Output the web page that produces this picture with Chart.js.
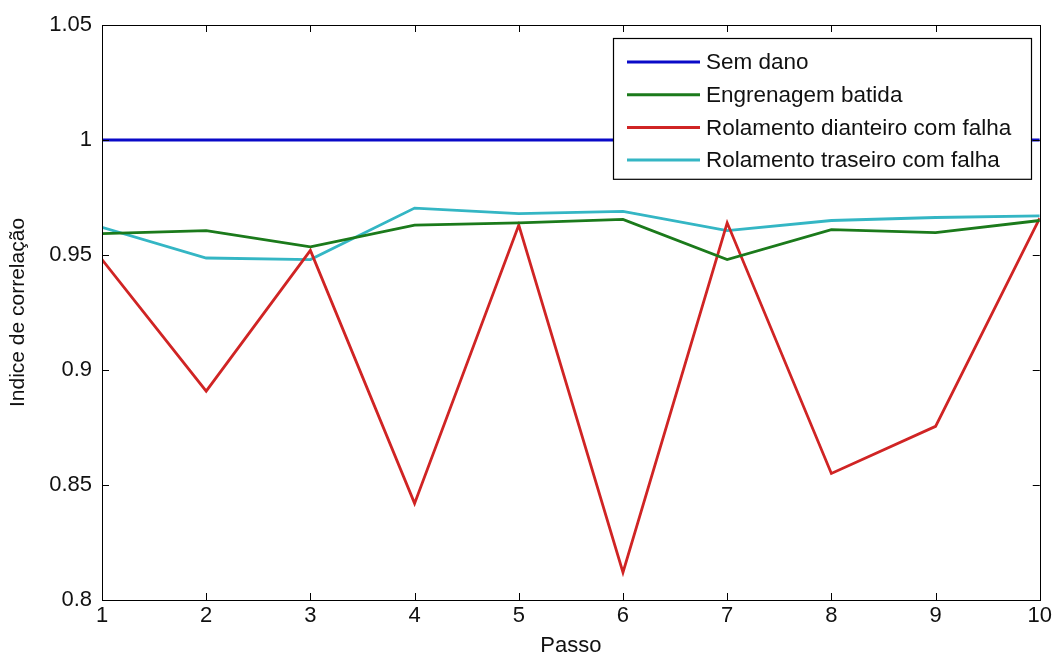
<!DOCTYPE html>
<html>
<head>
<meta charset="utf-8">
<script src="https://cdn.jsdelivr.net/npm/chart.js@4/dist/chart.umd.min.js"></script>
<style>
  html, body { margin: 0; padding: 0; background: #fff; }
  #wrap { width: 1055px; height: 659px; }
</style>
</head>
<body>
<div id="wrap"><canvas id="corrChart" width="1055" height="659"></canvas></div>
<script>
// data
const passos = [1, 2, 3, 4, 5, 6, 7, 8, 9, 10];
const semDano = [1.0, 1.0, 1.0, 1.0, 1.0, 1.0, 1.0, 1.0, 1.0, 1.0];
const engrenagemBatida = [0.9593, 0.9606, 0.9535, 0.963, 0.964, 0.9655, 0.948, 0.961, 0.9597, 0.965];
const rolDianteiro = [0.948, 0.8908, 0.952, 0.842, 0.963, 0.812, 0.964, 0.855, 0.8755, 0.966];
const rolTraseiro = [0.962, 0.9487, 0.948, 0.9704, 0.968, 0.969, 0.9606, 0.965, 0.9663, 0.967];
const seriesNames = ["Sem dano", "Engrenagem batida", "Rolamento dianteiro com falha", "Rolamento traseiro com falha"];
const seriesColors = ["#0a0ac8", "#1b7a1b", "#d02424", "#34b6c4"];
const xTicks = [1, 2, 3, 4, 5, 6, 7, 8, 9, 10];
const yTicks = [0.8, 0.85, 0.9, 0.95, 1, 1.05];

const FONT = "'Liberation Sans', Arial, sans-serif";

// pair up x and y for the linear x axis
const toPoints = vals => vals.map((v, i) => ({ x: passos[i], y: v }));
const allSeries = [semDano, engrenagemBatida, rolDianteiro, rolTraseiro];

// matlab style box + inward ticks on all four sides
const boxTicks = {
  id: "boxTicks",
  afterDraw(chart) {
    const { ctx, chartArea: a, scales } = chart;
    const len = 7;
    ctx.save();
    ctx.strokeStyle = "#000";
    ctx.lineWidth = 1;
    ctx.beginPath();
    xTicks.forEach(t => {
      const px = Math.round(scales.x.getPixelForValue(t)) + 0.5;
      ctx.moveTo(px, a.bottom); ctx.lineTo(px, a.bottom - len);
      ctx.moveTo(px, a.top); ctx.lineTo(px, a.top + len);
    });
    yTicks.forEach(t => {
      const py = Math.round(scales.y.getPixelForValue(t)) + 0.5;
      ctx.moveTo(a.left, py); ctx.lineTo(a.left + len, py);
      ctx.moveTo(a.right, py); ctx.lineTo(a.right - len, py);
    });
    ctx.stroke();
    ctx.strokeRect(Math.round(a.left) + 0.5, Math.round(a.top) + 0.5,
      Math.round(a.right - a.left), Math.round(a.bottom - a.top));
    ctx.restore();
  }
};

// legend box drawn inside the plot, top right
const boxLegend = {
  id: "boxLegend",
  afterDraw(chart) {
    const { ctx } = chart;
    const x0 = 613, y0 = 38, w = 418, rowH = 32.7;
    const h = rowH * chart.data.datasets.length + 10;
    ctx.save();
    ctx.fillStyle = "#fff";
    ctx.fillRect(x0, y0, w, h);
    ctx.strokeStyle = "#000";
    ctx.lineWidth = 1.2;
    ctx.strokeRect(x0 + 0.5, y0 + 0.5, w, h);
    ctx.font = "22.5px " + FONT;
    ctx.textBaseline = "middle";
    chart.data.datasets.forEach((ds, i) => {
      const yy = y0 + 24 + i * rowH;
      ctx.strokeStyle = ds.borderColor;
      ctx.lineWidth = 3;
      ctx.beginPath();
      ctx.moveTo(x0 + 14, yy); ctx.lineTo(x0 + 87, yy);
      ctx.stroke();
      ctx.fillStyle = "#111";
      ctx.fillText(ds.label, x0 + 93, yy + 1);
    });
    ctx.restore();
  }
};

const ctx = document.getElementById("corrChart").getContext("2d");
new Chart(ctx, {
  type: "line",
  data: {
    datasets: allSeries.map((vals, i) => ({
      label: seriesNames[i],
      data: toPoints(vals),
      borderColor: seriesColors[i],
      backgroundColor: seriesColors[i],
      borderWidth: 2.8,
      pointRadius: 0,
      tension: 0,
      fill: false
    }))
  },
  options: {
    responsive: false,
    animation: false,
    layout: { padding: { left: 0, top: 25, right: 8, bottom: 0 } },
    plugins: {
      legend: { display: false },
      tooltip: { enabled: false }
    },
    scales: {
      x: {
        type: "linear",
        min: 1,
        max: 10,
        afterBuildTicks: s => { s.ticks = xTicks.map(v => ({ value: v })); },
        afterFit: s => { s.height = 59; },
        grid: { display: false, drawTicks: false },
        border: { display: false },
        ticks: { color: "#111", font: { family: FONT, size: 22 }, padding: 3, maxRotation: 0 },
        title: { display: true, text: "Passo", color: "#111", font: { family: FONT, size: 22 }, padding: { top: 0, bottom: 0 } }
      },
      y: {
        min: 0.8,
        max: 1.05,
        afterBuildTicks: s => { s.ticks = yTicks.map(v => ({ value: v })); },
        afterFit: s => { s.width = 102; },
        grid: { display: false, drawTicks: false },
        border: { display: false },
        ticks: {
          color: "#111", font: { family: FONT, size: 22 }, padding: 10,
          callback: v => String(+v.toFixed(2)) // matlab drops trailing zeros
        },
        title: { display: true, text: "Indice de correlação", color: "#111", font: { family: FONT, size: 21 }, padding: { top: 6, bottom: 0 } }
      }
    }
  },
  plugins: [boxTicks, boxLegend]
});
</script>
</body>
</html>
